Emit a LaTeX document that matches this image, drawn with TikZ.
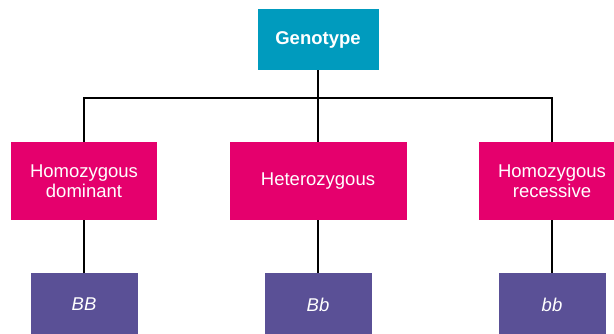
\documentclass[tikz,border=0pt]{standalone}
\usepackage{fontspec}
\setmainfont{Liberation Sans}
\usepackage{tikz}
\usetikzlibrary{positioning}
\definecolor{genoc}{HTML}{009BBE}
\definecolor{typec}{HTML}{E5006D}
\definecolor{allc}{HTML}{5A5096}

\begin{document}
\begin{tikzpicture}[x=1pt, y=-1pt, font=\fontsize{18.5}{19.5}\selectfont, node distance=53pt,
  box/.style={draw=none, text=white, align=center, inner sep=0pt, minimum height=78pt},
  allele/.style={box, fill=allc, minimum width=107pt, minimum height=62pt, font=\fontsize{18.5}{19.5}\selectfont\itshape},
  link/.style={line width=1.3pt, draw=black}]
\useasboundingbox (0,0) rectangle (614,333);
\node[box, fill=genoc, minimum width=121pt, minimum height=61pt, font=\fontsize{18.5}{19.5}\selectfont\bfseries] (geno) at (318,39.5) {Genotype};
\node[box, fill=typec, minimum width=146pt] (hd) at (84,181) {Homozygous\\dominant};
\node[box, fill=typec, minimum width=177pt] (he) at (318,181) {Heterozygous};
\node[box, fill=typec, minimum width=146pt] (hr) at (552,181) {Homozygous\\recessive};
\node[allele, below=of hd] (bb1) {BB};
\node[allele, below=of he] (bb2) {Bb};
\node[allele, below=of hr] (bb3) {bb};
\coordinate (bar) at (318,98);
\draw[link] (geno.south) -- (bar);
\foreach \n in {hd,he,hr}\draw[link] (bar) -| (\n.north);
\foreach \a/\b in {hd/bb1,he/bb2,hr/bb3}\draw[link] (\a) -- (\b);
\end{tikzpicture}
\end{document}
